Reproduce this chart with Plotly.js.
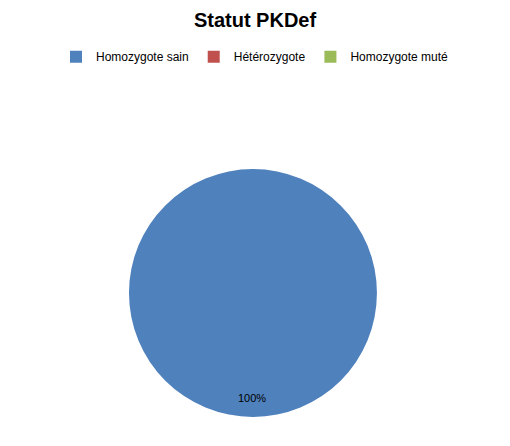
<!DOCTYPE html>
<html>
<head>
<meta charset="utf-8">
<script src="https://cdn.plot.ly/plotly-3.0.1.min.js"></script>
<style>
  html, body { margin: 0; padding: 0; background: #fff; }
  #chart { width: 510px; height: 446px; }
</style>
</head>
<body>
<div id="chart"></div>
<script>
var labels = ['Homozygote sain', 'Hétérozygote', 'Homozygote muté'];
var values = [100, 0, 0];
var colors = ['#4F81BD', '#C0504D', '#9BBB59'];

var total = values.reduce(function (a, b) { return a + b; }, 0);
var pct = Math.round(values[0] / total * 100) + '%';

var data = [{
    type: 'pie',
    labels: labels,
    values: values,
    sort: false,
    direction: 'clockwise',
    marker: { colors: colors, line: { width: 0 } },
    textinfo: 'none',
    hoverinfo: 'label+percent',
    domain: { x: [0.253, 0.739], y: [0.065, 0.621] }
}];

var layout = {
    width: 510,
    height: 446,
    margin: { l: 0, r: 0, t: 0, b: 0 },
    paper_bgcolor: '#fff',
    font: { family: 'Liberation Sans, Arial, sans-serif', color: '#000' },
    title: {
        text: '<b>Statut PKDef</b>',
        font: { size: 20, color: '#000' },
        x: 0.5, xanchor: 'center',
        y: 0.955, yanchor: 'middle'
    },
    showlegend: true,
    legend: {
        orientation: 'h',
        x: 0.5, xanchor: 'center',
        y: 0.873, yanchor: 'middle',
        font: { size: 12, color: '#000' },
        itemwidth: 30,
        traceorder: 'normal'
    },
    annotations: [{
        text: pct,
        xref: 'paper', yref: 'paper',
        x: 0.494, y: 0.107,
        xanchor: 'center', yanchor: 'middle',
        showarrow: false,
        font: { size: 11, color: '#000' }
    }]
};

Plotly.newPlot('chart', data, layout, { displayModeBar: false });
</script>
</body>
</html>
